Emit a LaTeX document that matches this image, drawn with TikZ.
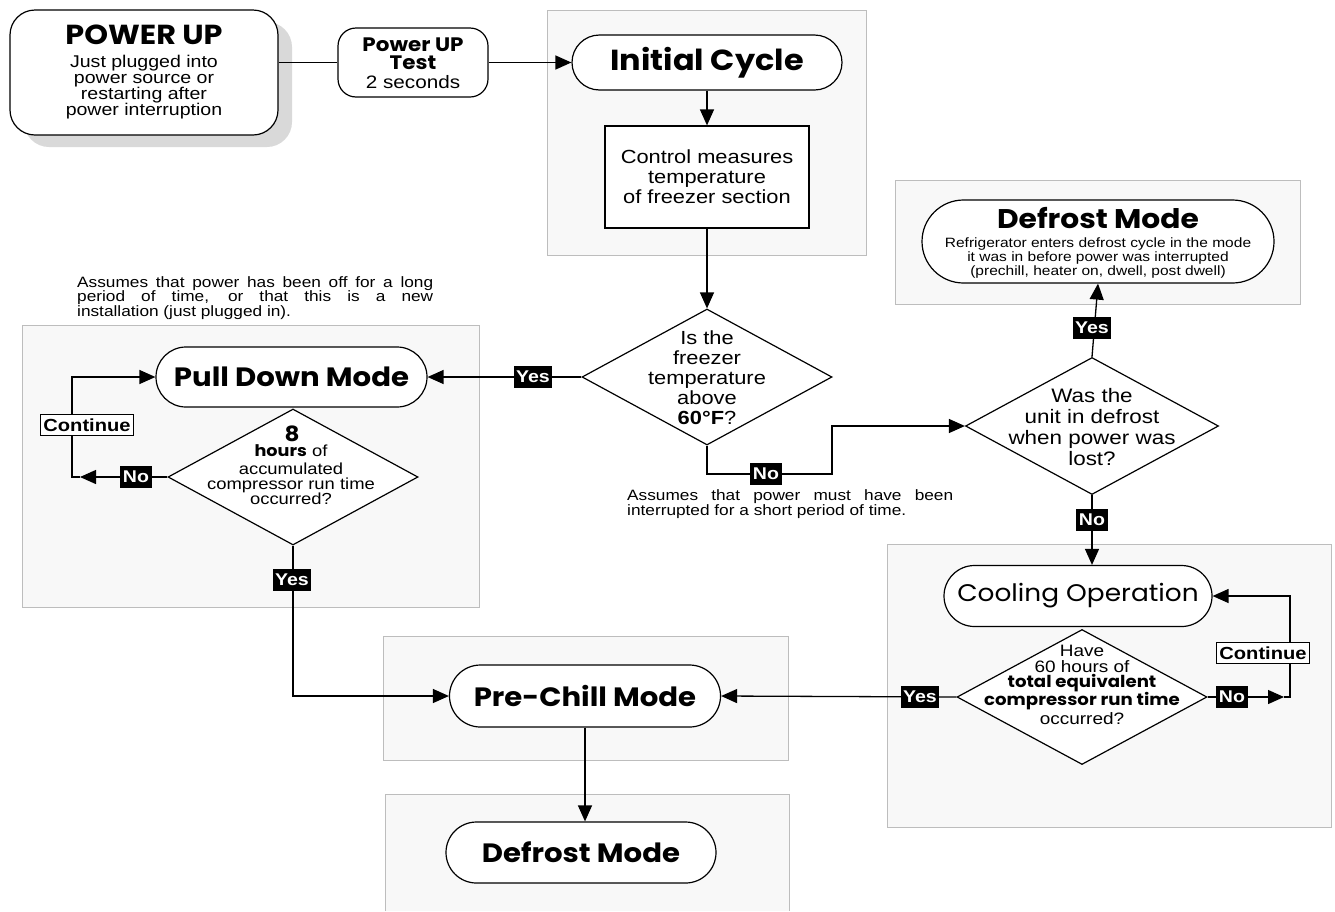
\documentclass[tikz,border=0pt]{standalone}
\usepackage{fontspec}
\setmainfont{Liberation Sans}[FakeStretch=1.15]
\newfontfamily\comic{Poppins}[FakeStretch=1.1]
\usetikzlibrary{shapes.geometric,shapes.misc,arrows.meta}
\newcommand\tsz[2]{\fontsize{#1}{#2}\selectfont}
\definecolor{grpfill}{HTML}{F8F8F8}
\definecolor{grpline}{HTML}{BDBDBD}
\definecolor{shadow}{HTML}{D9D9D9}
\begin{document}
\begin{tikzpicture}[x=1pt,y=-1pt,
  grp/.style={draw=grpline, fill=grpfill, line width=0.9pt},
  box/.style={draw, fill=white, line width=1.2pt, inner sep=0pt, align=center},
  stad/.style={box, rounded rectangle},
  dia/.style={draw, fill=white, diamond, line width=1.2pt, inner sep=0pt},
  txt/.style={align=center, inner sep=0pt},
  ttl/.style={font=\comic\bfseries\tsz{26.5}{28}},
  yn/.style={fill=black, text=white, font=\bfseries\tsz{17}{17}, inner sep=2.5pt, minimum height=22pt},
  cont/.style={draw, fill=white, line width=1pt, font=\bfseries\tsz{17.5}{17}, inner sep=2.5pt, minimum height=21pt},
  conn/.style={line width=1.3pt},
  arr/.style={conn, -{Triangle[length=16pt,width=14pt]}},
  note/.style={align=left, inner sep=0pt, anchor=north west}
]
\useasboundingbox (0,0) rectangle (1335,911);

% group boxes
\draw[grp] (547,10) rectangle (866,255);
\draw[grp] (895,180) rectangle (1300,304);
\draw[grp] (22,325) rectangle (479,607);
\draw[grp] (887,544) rectangle (1331,827);
\draw[grp] (383,636) rectangle (788,760);
\fill[grpfill] (385,794) rectangle (789,911);
\draw[grpline, line width=0.9pt] (385,911) |- (789,794) -- (789,911);

% shadow
\fill[shadow, rounded corners=25pt] (24,22) rectangle (292,147);

% POWER UP
\node[box, rounded corners=25pt, minimum width=268pt, minimum height=125pt] (pu) at (144,72.5) {};
\node[txt, font=\comic\bfseries\tsz{27.5}{28}] (put) at (144,35) {POWER UP};
\node[txt, font=\tsz{17}{16}] (pub) at (144,87.5) {Just plugged into\\power source or\\restarting after\\power interruption};

% Power UP test
\node[box, rounded corners=18pt, minimum width=150pt, minimum height=69pt] (test) at (413,62.5) {};
\node[txt, font=\comic\bfseries\tsz{19.5}{18}] (testt) at (413,54) {Power UP\\Test};
\node[txt, font=\tsz{18}{16}] (testb) at (413,82.5) {2 seconds};

% initial cycle
\node[stad, minimum width=270pt, minimum height=55pt, font=\comic\bfseries\tsz{29}{28}] (init) at (707,62.5) {Initial Cycle};
\node[box, minimum width=204pt, minimum height=102pt, font=\tsz{19}{20}] (meas) at (707,177)
  {Control measures\\temperature\\of freezer section};
\node[dia, minimum width=250pt, minimum height=136pt] (d1) at (707,377) {};
\node[txt, font=\tsz{19}{20}] (d1t) at (707,378) {Is the\\freezer\\temperature\\above\\\textbf{60°F}?};

% defrost top
\node[stad, minimum width=352pt, minimum height=83pt] (def1) at (1098,241.5) {};
\node[txt, font=\comic\bfseries\tsz{27}{28}] (def1t) at (1098,218) {Defrost Mode};
\node[txt, font=\tsz{13.5}{14}] (def1b) at (1098,258.5)
  {Refrigerator enters defrost cycle in the mode\\it was in before power was interrupted\\(prechill, heater on, dwell, post dwell)};

\node[dia, minimum width=253pt, minimum height=137pt] (d2) at (1092,426) {};
\node[txt, font=\tsz{19.5}{21}] (d2t) at (1092,427) {Was the\\unit in defrost\\when power was\\lost?};

% cooling
\node[stad, minimum width=268pt, minimum height=61pt, font=\comic\tsz{24}{26}] (cool) at (1078,596) {Cooling Operation};
\node[dia, minimum width=250pt, minimum height=135pt] (d3) at (1082,697) {};
\node[txt, font=\tsz{16.5}{16}] (d3a) at (1082,659) {Have\\60 hours of};
\node[txt, font=\comic\bfseries\tsz{16.5}{16.5}] (d3b) at (1082,692) {total equivalent\\compressor run time};
\node[txt, font=\tsz{16.5}{16}] (d3c) at (1082,719) {occurred?};

% pull down
\node[stad, minimum width=271pt, minimum height=60pt, ttl] (pull) at (291.5,377) {Pull Down Mode};
\node[dia, minimum width=250pt, minimum height=136pt] (d4) at (293,477) {};
\node[txt, font=\comic\bfseries\tsz{21}{20}] (d4a) at (292,434) {8};
\node[txt, font=\tsz{16}{15}] (d4b) at (291,451) {{\comic\bfseries hours} of};
\node[txt, font=\tsz{16}{14.5}] (d4c) at (291,484) {accumulated\\compressor run time\\occurred?};

% pre-chill and defrost bottom
\node[stad, minimum width=271pt, minimum height=62pt, ttl] (pre) at (585,696) {Pre-Chill Mode};
\node[stad, minimum width=270pt, minimum height=61pt, ttl] (def2) at (581,852.5) {Defrost Mode};

% notes
\node[note, font=\tsz{15}{14.5}] (n1) at (77,276)
  {\makebox[356pt][s]{Assumes that power has been off for a long}\\
   \makebox[356pt][s]{period of time, or that this is a new}\\
   installation (just plugged in).};
\node[note, font=\tsz{15}{15.5}] (n2) at (627,489)
  {\makebox[326pt][s]{Assumes that power must have been}\\
   interrupted for a short period of time.};

% coordinates
\coordinate (c1) at (832,474);
\coordinate (c2a) at (1284,697);
\coordinate (c2) at (1290,697);
\coordinate (c3a) at (80,477);
\coordinate (c3) at (72,477);

% connectors
\draw[conn] (test.west -| pu.east) -- (test.west);
\draw[arr] (test.east) -- (init.west);
\draw[arr] (init.south) -- (meas.north);
\draw[arr] (meas.south) -- (d1.north);
\draw[arr] (d1.west) -- (pull.east);
\draw[arr] (d1.south) |- (c1) |- (d2.west);
\draw[arr] (d2.north) -- (def1.south);
\draw[arr] (d2.south) -- (d2.south |- cool.north);
\draw[arr] (d3.east) -- (c2a);
\draw[arr] (c2a) -- (c2) |- (cool.east);
\draw[arr] (d3.west) -- (pre.east);
\draw[arr] (d4.west) -- (c3a);
\draw[arr] (c3a) -- (c3) |- (pull.west);
\draw[arr] (d4.south) |- (pre.west);
\draw[arr] (pre.south) -- (pre.south |- def2.north);

% labels
\node[yn] (y1) at (533,377) {Yes};
\node[yn] (no1) at (766,474) {No};
\node[yn] (y2) at (1092,328) {Yes};
\node[yn] (no2) at (1092,520) {No};
\node[yn] (y3) at (920,697) {Yes};
\node[yn] (no3) at (1232,697) {No};
\node[cont] (ct2) at (1263,653) {Continue};
\node[yn] (no4) at (136,477) {No};
\node[cont] (ct1) at (87,425) {Continue};
\node[yn] (y4) at (292,580) {Yes};
\end{tikzpicture}
\end{document}
